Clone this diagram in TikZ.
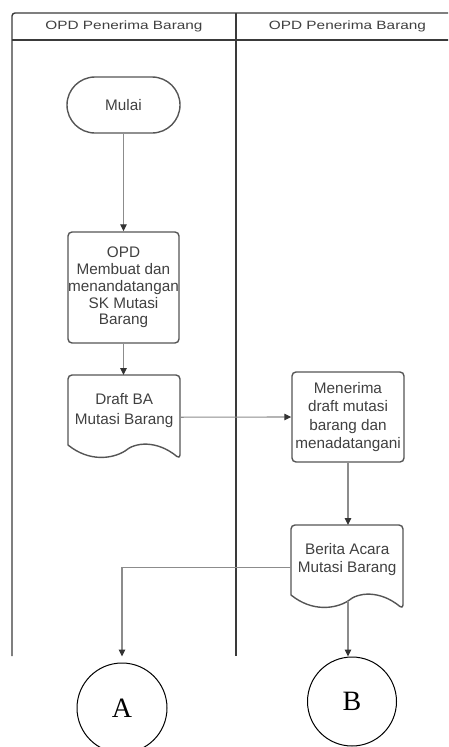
\documentclass[tikz,border=0pt]{standalone}
\usepackage{fontspec}
\setmainfont{Liberation Sans}
\newfontfamily\hdrfont[FakeStretch=1.28]{Liberation Sans}
\newfontfamily\serifletter{Liberation Serif}
\usetikzlibrary{arrows.meta,shapes.misc}
\definecolor{lanecol}{HTML}{3A3A3A}
\definecolor{shapecol}{HTML}{555555}
\definecolor{txtcol}{HTML}{404040}
\definecolor{conncol}{HTML}{8C8C8C}
\definecolor{tipcol}{HTML}{333333}
\newcommand\docoutline[1]{%
  \begin{scope}[shift={(#1.north west)}]
    \draw[shapeline, line join=round] (0,70) [rounded corners=4pt] -- (0,0) -- (112,0) -- (112,84)
      [sharp corners] .. controls (89,65) and (67,67) .. (57,76)
      .. controls (44,84) and (21,87) .. (0,70) -- cycle;
    \coordinate (#1wave) at (57,76);
  \end{scope}}
\begin{document}
\begin{tikzpicture}[x=1pt,y=-1pt,
  lane/.style={draw=lanecol, line width=1.4pt},
  hdr/.style={font=\hdrfont\fontsize{12}{14}\selectfont, text=txtcol, inner sep=0pt},
  shapeline/.style={draw=shapecol, line width=1.4pt},
  bodyfont/.style={font=\fontsize{15.3}{#1}\selectfont, text=txtcol, align=center, inner sep=0pt},
  proc/.style={shapeline, rounded corners=4pt},
  docbox/.style={inner sep=0pt, minimum width=112pt, minimum height=84pt, anchor=north west},
  conn/.style={draw=conncol, line width=1.1pt, -{Triangle[length=7pt,width=6.5pt,color=tipcol]}},
  conncircle/.style={circle, draw=black, line width=1pt, minimum size=#1, inner sep=0pt,
    font=\serifletter\fontsize{28}{30}\selectfont}
]
\useasboundingbox (0,0) rectangle (448,747);
\clip (0,0) rectangle (448,747);

% swimlane frame
\draw[lane, rounded corners=3pt] (12,656) -- (12,13) -- (470,13);
\draw[lane] (12,40) -- (470,40);
\draw[lane] (236,13) -- (236,656);
\node[hdr] (h1) at (124,26.5) {OPD Penerima Barang};
\node[hdr] (h2) at (347.5,26.5) {OPD Penerima Barang};

% left lane
\node[rounded rectangle, shapeline, minimum width=113pt, minimum height=56pt, bodyfont=18, inner sep=0pt]
  (mulai) at (123.5,105) {Mulai};
\node[proc, bodyfont=16.8, minimum width=111pt, minimum height=111pt] (opd) at (123.5,287.5)
  {OPD\\Membuat dan\\menandatangan\\SK Mutasi\\Barang};
\node[docbox] (draft) at (68,375) {};
\docoutline{draft}
\node[bodyfont=20] (drafttext) at ([yshift=7pt]draft.center) {Draft BA\\Mutasi Barang};

% right lane
\node[proc, bodyfont=18.3, minimum width=112pt, minimum height=90pt] (recv) at (348,417)
  {Menerima\\draft mutasi\\barang dan\\menadatangani};
\node[docbox] (berita) at (291,525) {};
\docoutline{berita}
\node[bodyfont=18.3] (beritatext) at ([yshift=8pt]berita.center) {Berita Acara\\Mutasi Barang};

% connectors (off-page)
\node[conncircle=90pt] (A) at (122,708) {A};
\node[conncircle=89pt] (B) at (352,701.5) {B};

% connectors
\draw[conn] (mulai.south) -- (mulai.south |- opd.north);
\draw[conn] (opd.south) -- (opd.south |- draft.north);
\draw[conn] (draft.east) -- (recv.west);
\draw[conn] (recv.south) -- (recv.south |- berita.north);
\draw[conn, shorten >=6pt] (berita.west) -| (A.north);
\draw[conn] (beritawave) -- (beritawave |- B.north);
\end{tikzpicture}
\end{document}
